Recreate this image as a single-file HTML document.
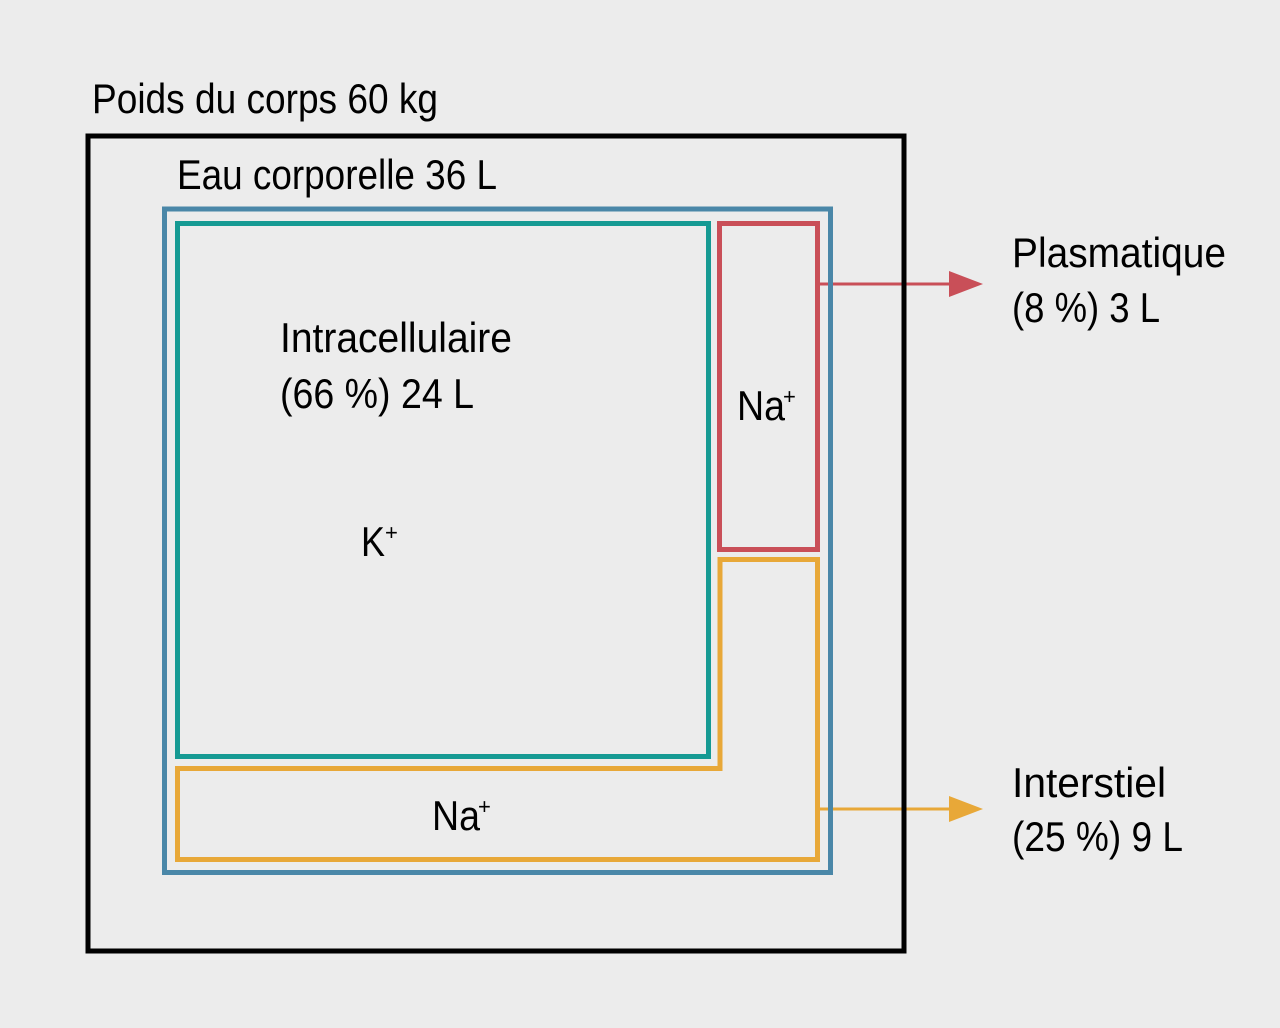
<!DOCTYPE html>
<html><head><meta charset="utf-8"><style>
html,body{margin:0;padding:0;background:#ececec;}
svg{display:block;}
text{font-family:"Liberation Sans Narrow","Liberation Sans",sans-serif;fill:#000;}
</style></head><body>
<svg width="1280" height="1028" viewBox="0 0 1280 1028" xmlns="http://www.w3.org/2000/svg">
<rect x="0" y="0" width="1280" height="1028" fill="#ececec"/>
<!-- arrows -->
<line x1="818" y1="284" x2="952" y2="284" stroke="#c94f58" stroke-width="3"/>
<polygon points="949,271 983,284 949,297" fill="#c94f58"/>
<line x1="818" y1="809" x2="952" y2="809" stroke="#e8a838" stroke-width="3"/>
<polygon points="949,796 983,809 949,822" fill="#e8a838"/>
<!-- boxes -->
<rect x="88" y="136" width="816" height="815" fill="none" stroke="#000" stroke-width="5"/>
<rect x="164.5" y="209" width="666" height="663.5" fill="none" stroke="#4a87a8" stroke-width="5"/>
<rect x="177.5" y="223.5" width="531" height="533" fill="none" stroke="#169a93" stroke-width="5"/>
<rect x="719.5" y="223.5" width="98" height="326" fill="none" stroke="#c94f58" stroke-width="5"/>
<path d="M720,559.5 H817.5 V859.5 H177.5 V768.5 H720 Z" fill="none" stroke="#e8a838" stroke-width="5"/>
<!-- text -->
<text x="92" y="113" font-size="42" textLength="346" lengthAdjust="spacingAndGlyphs">Poids du corps 60 kg</text>
<text x="177" y="189" font-size="42" textLength="320" lengthAdjust="spacingAndGlyphs">Eau corporelle 36 L</text>
<text x="280" y="352" font-size="42" textLength="232" lengthAdjust="spacingAndGlyphs">Intracellulaire</text>
<text x="280" y="408" font-size="42" textLength="194" lengthAdjust="spacingAndGlyphs">(66 %) 24 L</text>
<text x="361" y="556" font-size="42" textLength="24" lengthAdjust="spacingAndGlyphs">K</text>
<text x="385" y="540" font-size="22">+</text>
<text x="737" y="420" font-size="42" textLength="48" lengthAdjust="spacingAndGlyphs">Na</text>
<text x="783" y="404" font-size="22">+</text>
<text x="432" y="830" font-size="42" textLength="48" lengthAdjust="spacingAndGlyphs">Na</text>
<text x="478" y="814" font-size="22">+</text>
<text x="1012" y="267" font-size="42" textLength="214" lengthAdjust="spacingAndGlyphs">Plasmatique</text>
<text x="1012" y="322" font-size="42" textLength="148" lengthAdjust="spacingAndGlyphs">(8 %) 3 L</text>
<text x="1012" y="797" font-size="42" textLength="154" lengthAdjust="spacingAndGlyphs">Interstiel</text>
<text x="1012" y="851" font-size="42" textLength="171" lengthAdjust="spacingAndGlyphs">(25 %) 9 L</text>
</svg>
</body></html>
